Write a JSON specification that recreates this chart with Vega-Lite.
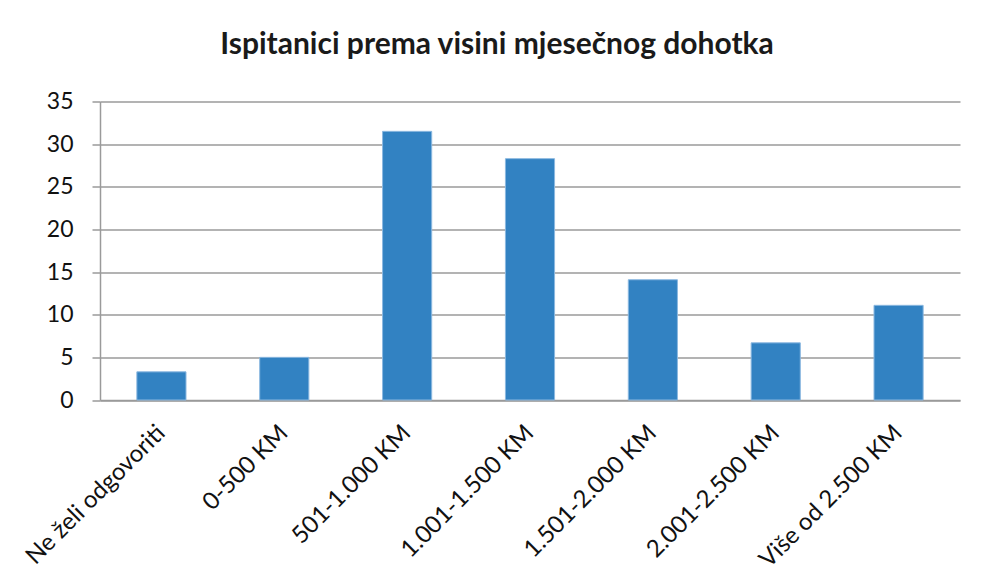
{
  "$schema": "https://vega.github.io/schema/vega-lite/v6.json",
  "width": 860,
  "height": 298.5,
  "autosize": "none",
  "padding": {"left": 100, "top": 101.5, "right": 21, "bottom": 188},
  "background": "white",
  "title": {
    "text": "Ispitanici prema visini mjesečnog dohotka",
    "font": "Lato",
    "fontSize": 30,
    "fontWeight": "bold",
    "color": "#1a1a1a",
    "anchor": "middle",
    "dx": -33,
    "offset": 31
  },
  "data": {
    "values": [
      {"kategorija": "Ne želi odgovoriti", "vrijednost": 3.3},
      {"kategorija": "0-500 KM", "vrijednost": 5.0},
      {"kategorija": "501-1.000 KM", "vrijednost": 31.5},
      {"kategorija": "1.001-1.500 KM", "vrijednost": 28.3},
      {"kategorija": "1.501-2.000 KM", "vrijednost": 14.1},
      {"kategorija": "2.001-2.500 KM", "vrijednost": 6.7},
      {"kategorija": "Više od 2.500 KM", "vrijednost": 11.1}
    ]
  },
  "mark": {"type": "bar", "color": "#3282c2", "stroke": "#8bb8e0", "strokeWidth": 1},
  "encoding": {
    "x": {
      "field": "kategorija",
      "type": "nominal",
      "sort": null,
      "title": null,
      "scale": {"paddingInner": 0.6, "paddingOuter": 0.3},
      "axis": {
        "labelAngle": -45,
        "labelAlign": "right",
        "labelBaseline": "middle",
        "labelFont": "Lato",
        "labelFontSize": 24,
        "labelColor": "#111111",
        "labelPadding": 29,
        "labelLimit": 0,
        "labelOverlap": false,
        "ticks": false,
        "domainColor": "#9a9a9a",
        "domainWidth": 1.5,
        "grid": false
      }
    },
    "y": {
      "field": "vrijednost",
      "type": "quantitative",
      "title": null,
      "scale": {"domain": [0, 35], "nice": false},
      "axis": {
        "values": [0, 5, 10, 15, 20, 25, 30, 35],
        "labelFont": "Lato",
        "labelFontSize": 23,
        "labelColor": "#111111",
        "labelPadding": 19,
        "tickSize": 8,
        "tickColor": "#9a9a9a",
        "tickWidth": 1.5,
        "domainColor": "#9a9a9a",
        "domainWidth": 1.5,
        "gridColor": "#9a9a9a",
        "gridWidth": 1.5,
        "gridOpacity": 1
      }
    }
  },
  "config": {"view": {"stroke": null}}
}
